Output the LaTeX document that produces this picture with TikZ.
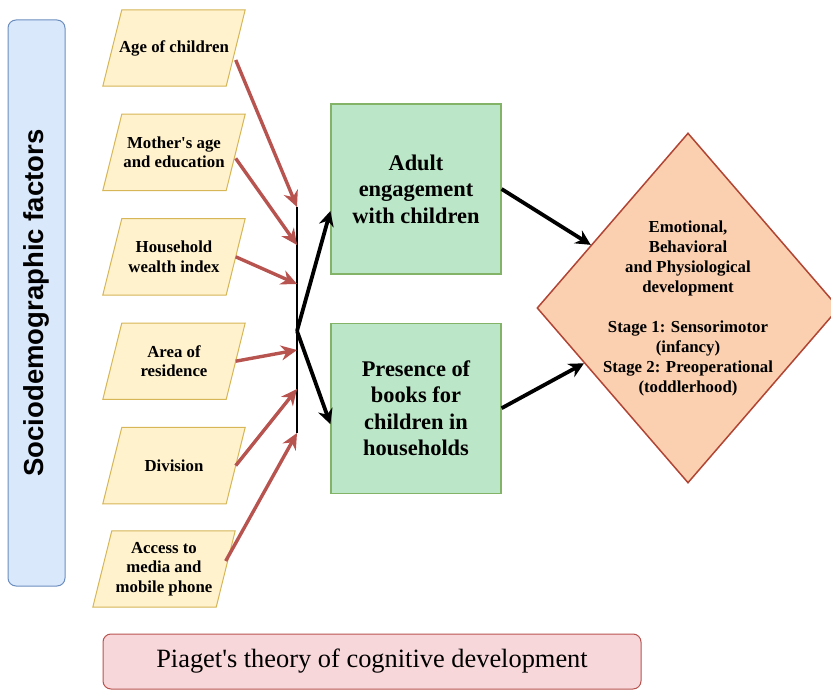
\documentclass[tikz,border=0pt]{standalone}
\usepackage{fontspec}
\setmainfont{Liberation Serif}
\setsansfont{Liberation Sans}
\usepackage{tikz}
\usetikzlibrary{shapes.geometric, arrows.meta, positioning, calc, backgrounds}
\definecolor{factfill}{HTML}{FFF2CC}
\definecolor{factline}{HTML}{D6B656}
\definecolor{sidefill}{HTML}{DAE8FC}
\definecolor{sideline}{HTML}{6C8EBF}
\definecolor{midfill}{RGB}{187,230,200}
\definecolor{midline}{HTML}{82B366}
\definecolor{devfill}{RGB}{250,208,176}
\definecolor{devline}{RGB}{178,68,52}
\definecolor{theofill}{RGB}{248,215,218}
\definecolor{theoline}{HTML}{B85450}
\definecolor{linkred}{HTML}{B85450}

\begin{document}
\begin{tikzpicture}[
    x=1pt, y=-1pt,
    node distance=28pt,
    factor/.style={rectangle, minimum width=123pt, minimum height=76pt, inner sep=2pt, align=center, font=\bfseries\fontsize{16.8}{19.5}\selectfont},
    slanted/.style={draw=factline, fill=factfill, line width=1pt},
    mediator/.style={rectangle, draw=midline, fill=midfill, line width=1.2pt, minimum width=170pt, minimum height=170pt, align=center, font=\bfseries\fontsize{22.4}{26.5}\selectfont},
    outcome/.style={diamond, aspect=0.86, draw=devline, fill=devfill, line width=1.5pt, minimum width=302pt, minimum height=350pt, inner sep=-10pt, align=center, font=\bfseries\fontsize{16.8}{20}\selectfont},
    redarrow/.style={-{Stealth[length=16pt, width=15pt]}, draw=linkred, line width=3.4pt},
    arrow/.style={-{Stealth[length=15pt, width=15pt]}, line width=3.8pt}
]
\useasboundingbox (0,0) rectangle (831,690);

\node[draw=sideline, fill=sidefill, rounded corners=8pt, line width=1pt, rotate=90, minimum width=566pt, minimum height=57pt, font=\sffamily\bfseries\fontsize{27.5}{32}\selectfont] (socio) at (36.5,303) {Sociodemographic factors};

\node[factor] (age) at (174,48) {Age of children};
\node[factor, below=of age] (mother) {Mother\textquotesingle s age\\and education};
\node[factor, below=of mother] (wealth) {Household\\wealth index};
\node[factor, below=of wealth] (area) {Area of\\residence};
\node[factor, below=of area] (div) {Division};
\node[factor, below=27pt of div, xshift=-10pt] (media) {Access to\\media and\\mobile phone};

\begin{pgfonlayer}{background}
\foreach \n in {age, mother, wealth, area, div, media}
    \draw[slanted] ([xshift=9.5pt]\n.north west) -- ([xshift=9.5pt]\n.north east) -- ([xshift=-9.5pt]\n.south east) -- ([xshift=-9.5pt]\n.south west) -- cycle;
\end{pgfonlayer}

\node[mediator] (adult) at (416,189) {Adult\\engagement\\with children};
\node[mediator, below=48pt of adult] (books) {Presence of\\books for\\children in\\households};

\node[outcome] (dev) at (688,308) {Emotional,\\Behavioral\\and Physiological\\development\\[20pt]Stage 1: Sensorimotor\\(infancy)\\Stage 2: Preoperational\\(toddlerhood)};

\node[draw=theoline, fill=theofill, rounded corners=8pt, line width=1pt, minimum width=538pt, minimum height=55pt, font=\fontsize{26.4}{30}\selectfont] (piaget) at (372,661.5) {Piaget\textquotesingle s theory of cognitive development};

\coordinate (bustop) at (297,207);
\coordinate (busbot) at (297,433);
\coordinate (hub) at (297,331);
\coordinate (b2) at (297,245);
\coordinate (b3) at (297,284);
\coordinate (b4) at (297,350);
\coordinate (b5) at (297,389);
\draw[line width=2pt] (bustop) -- (busbot);

\draw[redarrow] ([yshift=-12pt]age.east) -- (bustop);
\draw[redarrow] ([yshift=-6pt]mother.east) -- (b2);
\draw[redarrow] (wealth.east) -- (b3);
\draw[redarrow] (area.east) -- (b4);
\draw[redarrow] (div.east) -- (b5);
\draw[redarrow] ([yshift=8pt]media.east) -- (busbot);

\draw[arrow] (hub) -- ([yshift=-22pt]adult.west);
\draw[arrow] (hub) -- ([yshift=-16pt]books.west);
\draw[arrow] (adult.east) -- (dev.147);
\draw[arrow] (books.east) -- (dev.208);

\end{tikzpicture}
\end{document}
